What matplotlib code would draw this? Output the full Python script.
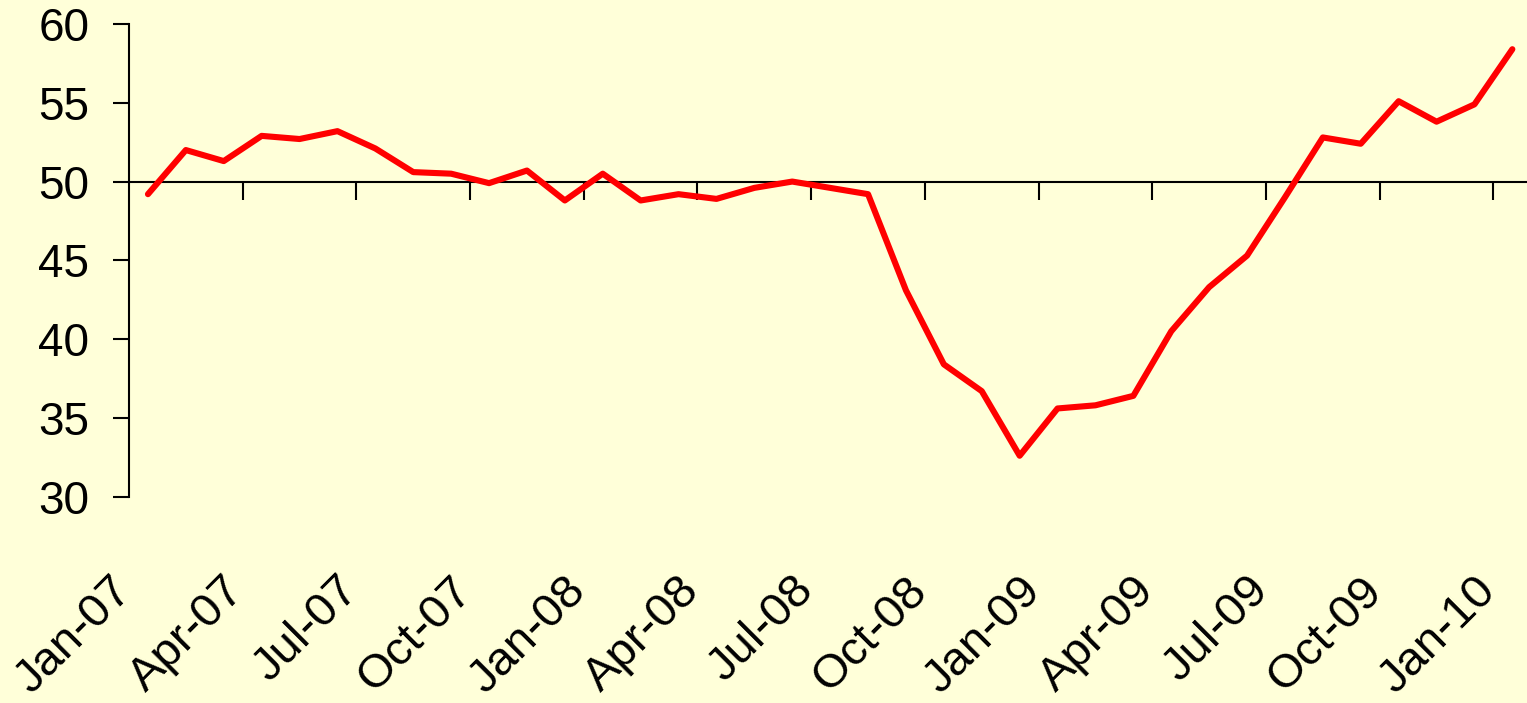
import matplotlib
matplotlib.use("Agg")
import matplotlib.pyplot as plt
import matplotlib.transforms as mtransforms
import numpy as np

plt.rcParams['font.family'] = ['Liberation Sans', 'DejaVu Sans']

months = ["Jan-07", "Feb-07", "Mar-07", "Apr-07", "May-07", "Jun-07", "Jul-07", "Aug-07", "Sep-07",
          "Oct-07", "Nov-07", "Dec-07", "Jan-08", "Feb-08", "Mar-08", "Apr-08", "May-08", "Jun-08",
          "Jul-08", "Aug-08", "Sep-08", "Oct-08", "Nov-08", "Dec-08", "Jan-09", "Feb-09", "Mar-09",
          "Apr-09", "May-09", "Jun-09", "Jul-09", "Aug-09", "Sep-09", "Oct-09", "Nov-09", "Dec-09",
          "Jan-10"]
values = [49.2, 52.0, 51.3, 52.9, 52.7, 53.2, 52.1, 50.6, 50.5,
          49.9, 50.7, 48.8, 50.5, 48.8, 49.2, 48.9, 49.6, 50.0,
          49.6, 49.2, 43.1, 38.4, 36.7, 32.6, 35.6, 35.8, 36.4,
          40.5, 43.3, 45.3, 49.0, 52.8, 52.4, 55.1, 53.8, 54.9,
          58.4]
yticks = [30, 35, 40, 45, 50, 55, 60]
label_step = 3

bg = '#FFFFD9'
W, H = 1527, 703
fig = plt.figure(figsize=(W / 100, H / 100), dpi=100, facecolor=bg)
left_px, top_px, bottom_px = 129, 24, 496.7
ax = fig.add_axes([left_px / W, 1 - bottom_px / H, (W - left_px) / W, (bottom_px - top_px) / H])
ax.set_facecolor(bg)

x = np.arange(len(values))
ax.plot(x, values, color='#FF0000', lw=4.4, solid_capstyle='round', solid_joinstyle='round', zorder=3)

month_px = 37.9
ax.set_xlim(-0.5, -0.5 + (W - left_px) / month_px)
ax.set_ylim(30, 60)

for s in ['top', 'right']:
    ax.spines[s].set_visible(False)
ax.spines['left'].set_linewidth(1.5)
ax.spines['bottom'].set_linewidth(1.5)
ax.spines['bottom'].set_position(('data', 50))

ax.set_yticks(yticks)
ax.set_yticklabels([str(v) for v in yticks])
ax.tick_params(axis='y', direction='out', length=11.5, width=1.5, pad=17, labelsize=33, colors='black')

boundaries = np.arange(-0.5 + label_step, len(values), label_step)
ax.set_xticks(boundaries)
ax.tick_params(axis='x', direction='out', length=13, width=1.5, labelbottom=False)

sec = ax.secondary_xaxis('bottom')
sec.spines['bottom'].set_visible(False)
pos = x[::label_step]
sec.set_xticks(pos)
sec.set_xticklabels([months[i] for i in pos], rotation=45, ha='right', va='baseline',
                    rotation_mode='anchor', fontsize=34)
sec.tick_params(axis='x', length=0, pad=69)
offset = mtransforms.ScaledTranslation(-15 / 100, 0, fig.dpi_scale_trans)
for lab in sec.get_xticklabels():
    lab.set_transform(lab.get_transform() + offset)

fig.savefig('out.png', dpi=100, facecolor=bg)
